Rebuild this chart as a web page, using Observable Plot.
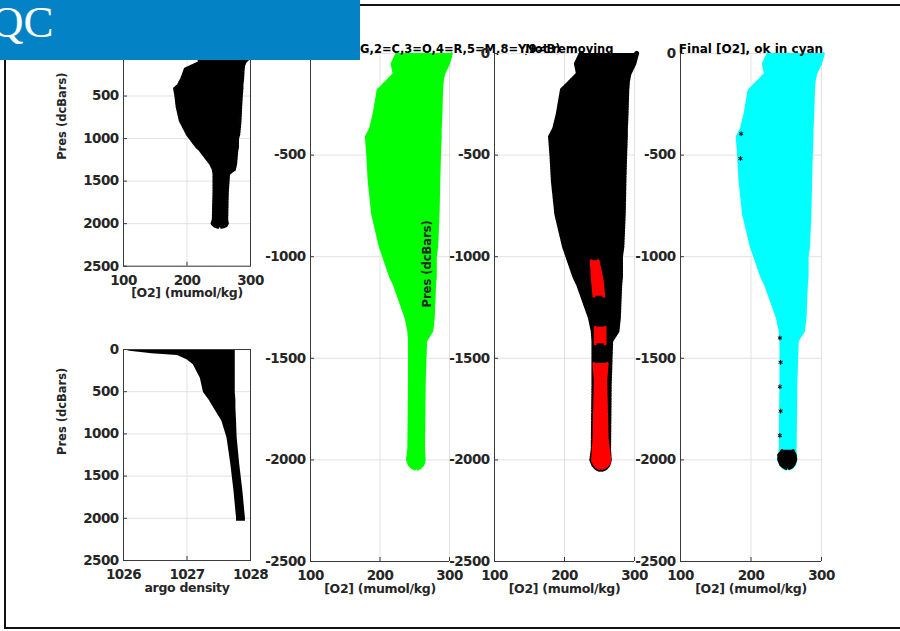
<!DOCTYPE html>
<html><head><meta charset="utf-8">
<script src="https://cdn.jsdelivr.net/npm/d3@7"></script>
<script src="https://cdn.jsdelivr.net/npm/@observablehq/plot@0.6"></script>
<style>
html,body{margin:0;padding:0;background:#fff;}
#fig{position:relative;width:900px;height:631px;overflow:hidden;background:#fff;}
#fig svg.plotsvg{position:absolute;left:0;top:0;}
#frame{position:absolute;left:4px;top:4px;width:1000px;height:625px;border:2px solid #111;box-sizing:border-box;}
#banner{position:absolute;left:0;top:0;width:360px;height:60px;background:#0383c5;}
</style>
</head><body>
<div id="fig"><div id="frame"></div></div>
<script>
// ---------- data ----------
// O2 envelope of all profiles: pressure level (dbar), min and max [O2] (mumol/kg)
const presLevels = [0, 50, 100, 135, 180, 300, 370, 410, 500, 625, 790, 950, 1000, 1100, 1135, 1300, 1365, 1415, 1625, 1950, 2000, 2025, 2040, 2046];
const o2Min = [224, 217, 220, 210, 197, 191, 186, 180, 182, 184, 189, 200, 205, 215, 220, 237, 241, 242, 242, 241, 239, 242, 246, 250];
const o2Max = [303, 299, 292, 290, 289, 288, 287, 287, 286, 285, 284, 282, 280, 280, 279, 277, 275, 266, 264, 263, 264, 262, 258, 254];

// argo density envelope: pressure level, min and max density
const densPres = [0, 20, 50, 70, 120, 180, 340, 510, 600, 690, 850, 1050, 1360, 1680, 2000, 2034];
const densMin = [1026.0, 1026.1, 1026.45, 1026.85, 1027.0, 1027.1, 1027.21, 1027.26, 1027.35, 1027.42, 1027.55, 1027.63, 1027.69, 1027.74, 1027.78, 1027.78];
const densMax = [1027.76, 1027.76, 1027.76, 1027.76, 1027.76, 1027.76, 1027.76, 1027.76, 1027.77, 1027.77, 1027.78, 1027.79, 1027.83, 1027.88, 1027.92, 1027.92];

// points being removed (red) in panel 4: segment id, pressure, min/max O2
const redSeg = [1, 1, 1, 2, 2, 3, 3, 3, 3, 3, 3, 3];
const redPres = [-1020, -1117, -1195, -1347, -1429, -1525, -1610, -1900, -2003, -2025, -2036, -2042];
const redMin = [238, 240, 242, 244, 244, 242, 244, 242, 240, 243, 246, 250];
const redMax = [248, 254, 256, 258, 258, 261, 259, 261, 265, 262, 258, 254];

// final panel: bad (black) blob at the bottom and scattered bad points
const blobPres = [-1953, -1975, -2000, -2025, -2037, -2043];
const blobMin = [244, 239, 239, 242, 246, 250];
const blobMax = [260, 263, 264, 261, 258, 254];
const badPres = [-395, -517, -1400, -1520, -1640, -1760, -1880];
const badO2 = [186, 185, 241, 242, 241, 242, 241];

// ticks and texts
const o2Ticks = [100, 200, 300];
const densTicks = [1026, 1027, 1028];
const presTicks = [0, 500, 1000, 1500, 2000, 2500];
const negPresTicks = [0, -500, -1000, -1500, -2000, -2500];
const o2Label = "[O2] (mumol/kg)";
const presLabel = "Pres (dcBars)";
const densLabel = "argo density";
const titleFlags = "Raw [O2] with QC flags (1=G,2=C,3=O,4=R,5=M,8=Y,9=B)";
const titleRemove = "Not removing";
const titleFinal = "Final [O2], ok in cyan";

// ---------- tables ----------
const rowsPos = presLevels.map((p, i) => ({p, lo: o2Min[i], hi: o2Max[i]}));
const rowsNeg = presLevels.map((p, i) => ({p: -p, lo: o2Min[i], hi: o2Max[i]}));
const rowsDens = densPres.map((p, i) => ({p, lo: densMin[i], hi: densMax[i]}));
const rowsRed = redPres.map((p, i) => ({seg: redSeg[i], p, lo: redMin[i], hi: redMax[i]}));
const rowsBlob = blobPres.map((p, i) => ({p, lo: blobMin[i], hi: blobMax[i]}));
const rowsBad = badPres.map((p, i) => ({p, o2: badO2[i]}));

const W = 900, H = 631;
const GRID = "#e2e2e2", AX = "#3a3a3a", TXT = "#262626";
const fmt = d => String(d);
const fig = document.getElementById("fig");

function cloud(rows, color, w, extra = {}) {
  return [
    Plot.areaX(rows, {y: "p", x1: "lo", x2: "hi", fill: color, ...extra}),
    Plot.line(rows, {x: "lo", y: "p", stroke: color, strokeWidth: w, strokeDasharray: "1.5 1.2", ...extra}),
    Plot.line(rows, {x: "hi", y: "p", stroke: color, strokeWidth: w, strokeDasharray: "1.5 1.2", ...extra})
  ];
}

// letter spacing per text (tick labels are condensed, labels/titles less so)
const spacing = new Map([
  [o2Label, "-0.3px"], [densLabel, "-0.3px"], [presLabel, "0px"],
  [titleFlags, "0px"], [titleRemove, "0px"], [titleFinal, "0px"]
]);

function panel(o) {
  const svg = Plot.plot({
    width: W, height: H,
    marginLeft: o.L, marginRight: W - o.R, marginTop: o.T, marginBottom: H - o.B,
    x: {domain: o.xDomain},
    y: {domain: o.yDomain, reverse: !!o.yReverse},
    style: {background: "transparent", fontFamily: "DejaVu Sans, sans-serif", fontSize: "13.5px",
            fontWeight: "bold", color: TXT, overflow: "visible", letterSpacing: "-0.6px"},
    marks: o.marks
  });
  svg.querySelectorAll("text").forEach(t => {
    const s = spacing.get(t.textContent);
    if (s !== undefined) t.style.letterSpacing = s;
  });
  svg.classList.add("plotsvg");
  fig.appendChild(svg);
}

const tickStyle = {tickFormat: fmt, tickSize: -4, label: null, stroke: AX};
const xAxis = (ticks) => Plot.axisX({ticks, ...tickStyle, tickPadding: 13});
const yAxis = (ticks) => Plot.axisY({ticks, ...tickStyle, tickPadding: 9});
const xLab = (t) => Plot.text([t], {frameAnchor: "bottom", dy: 31, text: d => d, fontSize: 12.5, fill: TXT});
const yLab = (t, dx) => Plot.text([t], {frameAnchor: "left", dx, rotate: -90, text: d => d, fontSize: 11.5, fill: TXT});

// Panel A: O2 vs pressure
panel({L: 123, R: 250, T: 53, B: 265.7, xDomain: [100, 300], yDomain: [0, 2500], yReverse: true,
  marks: [
    Plot.gridX(o2Ticks, {stroke: GRID, strokeOpacity: 1}),
    Plot.gridY(presTicks, {stroke: GRID, strokeOpacity: 1}),
    ...cloud(rowsPos, "#000", 2.5),
    Plot.frame({stroke: AX}),
    xAxis(o2Ticks), yAxis(presTicks),
    xLab(o2Label), yLab(presLabel, -61)
  ]});

// Panel B: density vs pressure
panel({L: 123, R: 250, T: 349, B: 560, xDomain: [1026, 1028], yDomain: [0, 2500], yReverse: true,
  marks: [
    Plot.gridX(densTicks, {stroke: GRID, strokeOpacity: 1}),
    Plot.gridY(presTicks, {stroke: GRID, strokeOpacity: 1}),
    Plot.areaX(rowsDens, {y: "p", x1: "lo", x2: "hi", fill: "#000"}),
    Plot.frame({stroke: AX}),
    xAxis(densTicks), yAxis(presTicks),
    xLab(densLabel), yLab(presLabel, -61)
  ]});

function negPanel(L, R, marks, title) {
  panel({L, R, T: 53, B: 561, xDomain: [100, 300], yDomain: [-2500, 0],
    marks: [
      Plot.gridX(o2Ticks, {stroke: GRID, strokeOpacity: 1}),
      Plot.gridY(negPresTicks, {stroke: GRID, strokeOpacity: 1}),
      ...marks,
      Plot.ruleX([100], {stroke: AX}),
      Plot.ruleY([-2500], {stroke: AX}),
      xAxis(o2Ticks), yAxis(negPresTicks),
      xLab(o2Label),
      title
    ]});
}

const titleOpts = {text: d => d, fontSize: 11.5, fill: "#000", dy: -9};

// Panel C: QC flags (all good, green)
negPanel(310, 449, cloud(rowsNeg, "#00ff00", 2.5),
  Plot.text([titleFlags], {...titleOpts, frameAnchor: "top-right", textAnchor: "end", dx: 111}));

// Panel D: removing (black all, red removed)
negPanel(494, 634, [
    ...cloud(rowsNeg, "#000", 5),
    ...cloud(rowsRed, "#ff0000", 3, {z: "seg"}),
    yLab(presLabel, -67)
  ],
  Plot.text([titleRemove], {...titleOpts, frameAnchor: "top-right", textAnchor: "end", dx: -21}));

// Panel E: final, ok in cyan
negPanel(680, 821, [
    ...cloud(rowsNeg, "#00ffff", 2.5),
    ...cloud(rowsBlob, "#000", 2.5),
    Plot.dot(rowsBad, {x: "o2", y: "p", symbol: "asterisk", r: 2.2, stroke: "#000", strokeWidth: 1})
  ],
  Plot.text([titleFinal], {...titleOpts, fontSize: 12, frameAnchor: "top"}));

// banner on top
const banner = document.createElement("div");
banner.id = "banner";
banner.innerHTML = '<svg width="360" height="60" style="display:block"><text x="-9" y="37" fill="#fff" font-family="Liberation Serif, DejaVu Serif, serif" font-size="45">QC</text></svg>';
fig.appendChild(banner);
</script>
</body></html>
